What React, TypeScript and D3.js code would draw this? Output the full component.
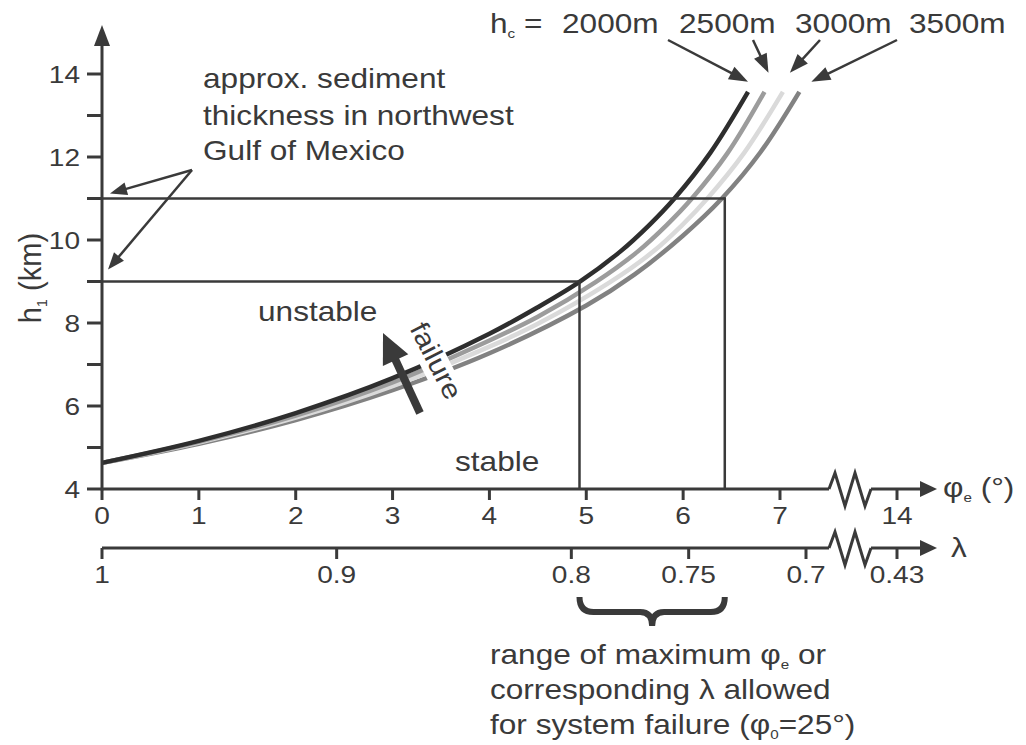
import React from 'react';
import * as d3 from 'd3';

// curves of h1 (km) against phi_e (deg), one per critical depth hc
const phi2000 = [0, 1, 2, 3, 4, 4.5, 4.93, 5.35, 5.65, 5.91, 6.28, 6.67];
const h2000 = [4.63, 5.16, 5.83, 6.67, 7.74, 8.38, 8.99, 9.72, 10.36, 11.0, 12.1, 13.57];
const phi2500 = [0, 1, 2, 3, 4, 4.5, 5.1, 5.53, 5.83, 6.09, 6.46, 6.84];
const h2500 = [4.63, 5.14, 5.77, 6.57, 7.58, 8.15, 8.99, 9.72, 10.36, 11.0, 12.1, 13.57];
const phi3000 = [0, 1, 2, 3, 4, 4.5, 5.25, 5.69, 5.99, 6.25, 6.63, 7.03];
const h3000 = [4.63, 5.12, 5.72, 6.48, 7.43, 7.98, 8.99, 9.72, 10.36, 11.0, 12.1, 13.57];
const phi3500 = [0, 1, 2, 3, 4, 5, 5.5, 6, 6.4, 6.8, 7.2];
const h3500 = [4.63, 5.09, 5.66, 6.38, 7.27, 8.42, 9.17, 10.11, 11.0, 12.12, 13.57];

const seriesNames = ['2000m', '2500m', '3000m', '3500m'];
const seriesColors = ['#2e2e2e', '#9c9c9c', '#dadada', '#828282'];

const phiTicks = [0, 1, 2, 3, 4, 5, 6, 7, 14];
const lambdaTicks = [1, 0.9, 0.8, 0.75, 0.7, 0.43];
const lambdaLabels = ['1', '0.9', '0.8', '0.75', '0.7', '0.43'];
const hTicks = [4, 5, 6, 7, 8, 9, 10, 11, 12, 13, 14];
const sedimentH = [9, 11];
const maxPhi = [4.93, 6.43];

const INK = '#3a3a3a';
const FONT = '"Liberation Sans", Arial, sans-serif';
const SX = 1.17;

// linear up to the axis break, then jumps to 14
const x = d3.scaleLinear().domain([0, 7.6, 14]).range([102, 838.1, 897]);
const xl = d3.scaleLinear().domain([1, 0.7, 0.43]).range([102, 806, 897]);
const y = d3.scaleLinear().domain([4, 14]).range([489, 74]);

const axisY = y(4);
const lamY = 548;
const breakX = 829;
const tipX = 937;

function T({ x, y, size = 27, anchor = 'start', rotate = 0, sx = SX, sy = 1, children }: any) {
  return (
    <text
      transform={`translate(${x},${y}) rotate(${rotate}) scale(${sx},${sy})`}
      fontSize={size}
      textAnchor={anchor}
      fill={INK}
      fontFamily={FONT}
    >
      {children}
    </text>
  );
}

function Arrow({ x1, y1, x2, y2, w = 2.5, len = 17, half = 6.5 }: any) {
  const dx = x2 - x1;
  const dy = y2 - y1;
  const L = Math.hypot(dx, dy);
  const ux = dx / L;
  const uy = dy / L;
  const bx = x2 - ux * len;
  const by = y2 - uy * len;
  const pts = [
    [x2, y2],
    [bx - uy * half, by + ux * half],
    [bx + uy * half, by - ux * half],
  ];
  return (
    <g>
      <line x1={x1} y1={y1} x2={bx + ux * 2} y2={by + uy * 2} stroke={INK} strokeWidth={w} />
      <polygon points={pts.map(p => p.join(',')).join(' ')} fill={INK} />
    </g>
  );
}

const zigzag = (yy: number) =>
  `M${breakX},${yy} L${breakX + 6},${yy - 16} L${breakX + 16},${yy + 17} L${breakX + 26},${yy - 16} L${breakX + 36},${yy + 17} L${breakX + 42},${yy}`;

function BrokenAxis({ yy }: { yy: number }) {
  return (
    <g>
      <line x1={102} y1={yy} x2={breakX} y2={yy} stroke={INK} strokeWidth={3} />
      <path d={zigzag(yy)} fill="none" stroke={INK} strokeWidth={3} strokeLinejoin="miter" />
      <line x1={breakX + 42} y1={yy} x2={tipX - 14} y2={yy} stroke={INK} strokeWidth={3} />
      <polygon points={`${tipX},${yy} ${tipX - 17},${yy - 8} ${tipX - 17},${yy + 8}`} fill={INK} />
    </g>
  );
}

export default function App() {
  const series = [
    [phi2000, h2000],
    [phi2500, h2500],
    [phi3000, h3000],
    [phi3500, h3500],
  ];
  const line = d3
    .line<[number, number]>()
    .x(d => x(d[0]))
    .y(d => y(d[1]))
    .curve(d3.curveCatmullRom.alpha(0.5));

  const tops = series.map(([p, h]) => [x(p[p.length - 1]), y(h[h.length - 1])]);
  const labelX = [562, 679, 795, 909];
  const arrowFrom = [668, 753, 820, 897];
  const tipOff = [[0, -10], [4, -19], [7, -19], [12, -10]];

  // failure arrow
  const fTail = [420, 413];
  const fTip = [383, 333];

  const bl = x(maxPhi[0]);
  const br = x(maxPhi[1]);
  const bm = (bl + br) / 2;

  return (
    <svg width={1026} height={745} style={{ position: 'absolute', left: 0, top: 0, background: '#fff' }}>
      <rect width={1026} height={745} fill="#fff" />

      {/* curves */}
      {[3, 2, 1, 0].map(i => {
        const [p, h] = series[i];
        const pts = p.map((v, j) => [v, h[j]] as [number, number]);
        return (
          <path key={seriesNames[i]} d={line(pts) || ''} fill="none" stroke={seriesColors[i]} strokeWidth={4.5} />
        );
      })}

      {/* sediment thickness reference lines */}
      {sedimentH.map((h, i) => (
        <g key={h}>
          <line x1={87} y1={y(h)} x2={x(maxPhi[i])} y2={y(h)} stroke={INK} strokeWidth={2.5} />
          <line x1={x(maxPhi[i])} y1={y(h) - 1.2} x2={x(maxPhi[i])} y2={axisY} stroke={INK} strokeWidth={2.5} />
        </g>
      ))}

      {/* y axis */}
      <line x1={102} y1={axisY + 1.5} x2={102} y2={40} stroke={INK} strokeWidth={3} />
      <polygon points={`102,25 94,46 110,46`} fill={INK} />
      {hTicks.map(t => (
        <line key={t} x1={87} y1={y(t)} x2={102} y2={y(t)} stroke={INK} strokeWidth={3} />
      ))}
      {hTicks.filter(t => t % 2 === 0).map(t => (
        <T key={t} x={80} y={y(t) + 8.5} size={24} anchor="end">{t}</T>
      ))}
      <T x={41} y={278} size={27} rotate={-90} anchor="middle" sx={1.08} sy={SX}>
        h<tspan fontSize={13} dy={5}>1</tspan><tspan dy={-5}> (km)</tspan>
      </T>

      {/* phi_e axis */}
      <BrokenAxis yy={axisY} />
      {phiTicks.map(t => (
        <g key={t}>
          <line x1={x(t)} y1={axisY} x2={x(t)} y2={axisY + 11} stroke={INK} strokeWidth={3} />
          <T x={x(t)} y={524} size={24} anchor="middle">{t}</T>
        </g>
      ))}
      <T x={943} y={497} size={27}>
        φ<tspan fontSize={13} dy={5}>e</tspan><tspan dy={-5}> (°)</tspan>
      </T>

      {/* lambda axis */}
      <BrokenAxis yy={lamY} />
      {lambdaTicks.map((t, i) => (
        <g key={t}>
          <line x1={xl(t)} y1={lamY} x2={xl(t)} y2={lamY + 11} stroke={INK} strokeWidth={3} />
          <T x={xl(t)} y={583} size={24} anchor="middle">{lambdaLabels[i]}</T>
        </g>
      ))}
      <T x={951} y={557} size={27}>λ</T>

      {/* hc labels */}
      <T x={490} y={33} size={27}>
        h<tspan fontSize={13} dy={5}>c</tspan><tspan dy={-5}> =</tspan>
      </T>
      {seriesNames.map((n, i) => (
        <g key={n}>
          <T x={labelX[i]} y={33} size={27}>{n}</T>
          <Arrow x1={arrowFrom[i]} y1={40} x2={tops[i][0] + tipOff[i][0]} y2={tops[i][1] + tipOff[i][1]} len={19} half={7} />
        </g>
      ))}

      {/* sediment annotation */}
      <T x={203} y={88}>approx. sediment</T>
      <T x={203} y={125}>thickness in northwest</T>
      <T x={203} y={160}>Gulf of Mexico</T>
      <Arrow x1={192} y1={170} x2={110} y2={y(11) - 5} />
      <Arrow x1={192} y1={170} x2={108} y2={y(9) - 12} />

      {/* region labels */}
      <T x={258} y={321}>unstable</T>
      <T x={455} y={471}>stable</T>

      {/* failure */}
      <g transform="translate(428,365) rotate(63)">
        <rect x={-50} y={-21} width={100} height={28} fill="#fff" />
      </g>
      <T x={428} y={365} rotate={63} anchor="middle" sx={1.12}>failure</T>
      <Arrow x1={fTail[0]} y1={fTail[1]} x2={fTip[0]} y2={fTip[1]} w={8} len={30} half={14} />

      {/* brace */}
      <path
        d={`M${bl},597 Q${bl},612 ${bl + 14},612 L${bm - 12},612 Q${bm},612 ${bm},626 Q${bm},612 ${bm + 12},612 L${br - 14},612 Q${br},612 ${br},597`}
        fill="none"
        stroke={INK}
        strokeWidth={6}
      />

      {/* bottom note */}
      <T x={490} y={664}>
        range of maximum φ<tspan fontSize={13} dy={5}>e</tspan><tspan dy={-5}> or</tspan>
      </T>
      <T x={490} y={699}>corresponding λ allowed</T>
      <T x={490} y={734}>
        for system failure (φ<tspan fontSize={13} dy={5}>0</tspan><tspan dy={-5}>=25°)</tspan>
      </T>
    </svg>
  );
}
